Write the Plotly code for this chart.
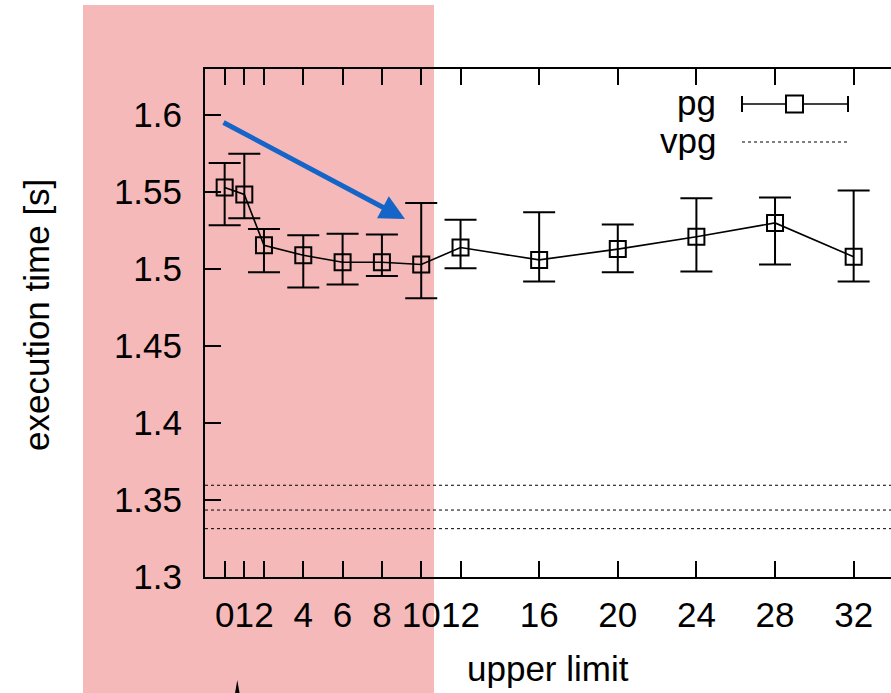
import plotly.graph_objects as go

# ---- data -------------------------------------------------------------
upper_limit = [0, 1, 2, 4, 6, 8, 10, 12, 16, 20, 24, 28, 32]
pg_mean = [1.553, 1.5485, 1.5155, 1.509, 1.5045, 1.5045, 1.503,
           1.514, 1.506, 1.513, 1.521, 1.530, 1.508]
pg_high = [1.569, 1.575, 1.526, 1.522, 1.523, 1.5225, 1.543,
           1.532, 1.537, 1.529, 1.546, 1.5465, 1.551]
pg_low = [1.5285, 1.533, 1.498, 1.488, 1.490, 1.4955, 1.481,
          1.5005, 1.492, 1.498, 1.4985, 1.503, 1.492]

vpg_mean = 1.3435
vpg_high = 1.3596
vpg_low = 1.3314

x_ticks = [0, 1, 2, 4, 6, 8, 10, 12, 16, 20, 24, 28, 32]
x_tick_text = ["0", "1", "2", "4", "6", "8", "10", "12", "16", "20", "24", "28", "32"]
y_ticks = [1.3, 1.35, 1.4, 1.45, 1.5, 1.55, 1.6]
y_tick_text = ["1.3", "1.35", "1.4", "1.45", "1.5", "1.55", "1.6"]

# ---- page geometry ----------------------------------------------------
W, H = 891, 693
ML, MR, MT, MB = 205, 0, 69, 116
PW, PH = W - ML - MR, H - MT - MB
FONT = "Liberation Sans, Arial, Helvetica, sans-serif"
FS = 35


def px(x):
    return (x - ML) / PW


def py(y):
    return (H - MB - y) / PH


err_plus = [h - m for h, m in zip(pg_high, pg_mean)]
err_minus = [m - l for m, l in zip(pg_mean, pg_low)]

fig = go.Figure()
fig.add_trace(go.Scatter(
    x=upper_limit, y=pg_mean, mode="lines+markers", name="pg",
    line=dict(color="black", width=1.6),
    marker=dict(symbol="square-open", size=16, color="black",
                line=dict(width=2, color="black")),
    error_y=dict(type="data", symmetric=False, array=err_plus,
                 arrayminus=err_minus, color="black", thickness=2, width=16),
    showlegend=False,
))

shapes = []
# highlighted region
shapes.append(dict(type="rect", xref="paper", yref="paper", layer="below",
                   x0=px(83), x1=px(434), y0=py(H + 5), y1=py(5),
                   fillcolor="#F6B9B9", line=dict(width=0)))
# vpg mean and its spread
for v in (vpg_high, vpg_mean, vpg_low):
    shapes.append(dict(type="line", xref="paper", yref="y", x0=0, x1=1,
                       y0=v, y1=v, line=dict(color="black", width=1, dash="3px,3px")))

# key
ky1, ky2 = 104, 142
shapes += [
    dict(type="line", xref="paper", yref="paper", x0=px(742), x1=px(848),
         y0=py(ky1), y1=py(ky1), line=dict(color="black", width=1.6)),
    dict(type="line", xref="paper", yref="paper", x0=px(742), x1=px(742),
         y0=py(ky1 - 8), y1=py(ky1 + 8), line=dict(color="black", width=2)),
    dict(type="line", xref="paper", yref="paper", x0=px(848), x1=px(848),
         y0=py(ky1 - 8), y1=py(ky1 + 8), line=dict(color="black", width=2)),
    dict(type="rect", xref="paper", yref="paper", x0=px(786), x1=px(803),
         y0=py(ky1 - 8.5), y1=py(ky1 + 8.5), fillcolor="white",
         line=dict(color="black", width=2)),
    dict(type="line", xref="paper", yref="paper", x0=px(742), x1=px(847),
         y0=py(ky2), y1=py(ky2), line=dict(color="black", width=1, dash="3px,3px")),
]

# narrow black pointer rising from the bottom edge
tip_x, tip_y = 237.3, 680
shapes.append(dict(
    type="path", xref="paper", yref="paper", fillcolor="black", line=dict(width=0),
    path=f"M {px(tip_x)} {py(tip_y)} L {px(tip_x - 3.8)} {py(tip_y + 22)} "
         f"L {px(tip_x + 3.8)} {py(tip_y + 22)} Z",
))

annotations = [
    dict(text="pg", xref="paper", yref="paper", x=px(718), y=py(ky1 - 2),
         xanchor="right", yanchor="middle", showarrow=False,
         font=dict(family=FONT, size=FS, color="black")),
    dict(text="vpg", xref="paper", yref="paper", x=px(718), y=py(ky2 - 2),
         xanchor="right", yanchor="middle", showarrow=False,
         font=dict(family=FONT, size=FS, color="black")),
    dict(text="execution time [s]", xref="paper", yref="paper",
         x=px(36), y=py(315), textangle=-90, xanchor="center", yanchor="middle",
         showarrow=False, font=dict(family=FONT, size=FS, color="black")),
    dict(text="upper limit", xref="paper", yref="paper",
         x=px(548), y=py(668), xanchor="center", yanchor="middle",
         showarrow=False, font=dict(family=FONT, size=FS, color="black")),
    # blue pointer
    dict(text="", xref="paper", yref="paper", x=px(405), y=py(219),
         ax=222 - 405, ay=121.7 - 219, showarrow=True, arrowhead=2,
         arrowsize=1, arrowwidth=5, arrowcolor="#1565C8", standoff=0),
]

axis_common = dict(
    showgrid=False, zeroline=False, ticks="inside", ticklen=16, tickwidth=2,
    tickcolor="black", linecolor="black", linewidth=2, showline=True,
    tickfont=dict(family=FONT, size=FS, color="black"),
)

fig.update_layout(
    width=W, height=H,
    margin=dict(l=ML, r=MR, t=MT, b=MB, pad=0),
    paper_bgcolor="white", plot_bgcolor="rgba(0,0,0,0)",
    xaxis=dict(range=[-1, 33.9], tickvals=x_ticks, ticktext=x_tick_text,
               tickangle=0, mirror="ticks", ticklabelstandoff=6, **axis_common),
    yaxis=dict(range=[1.3, 1.63], tickvals=y_ticks, ticktext=y_tick_text,
               ticklabelstandoff=14, **axis_common),
    yaxis2=dict(range=[1.3, 1.63], tickvals=y_ticks, overlaying="y", side="right",
                anchor="x", showticklabels=False, showgrid=False, zeroline=False,
                ticks="inside", ticklen=16, tickwidth=2, tickcolor="black",
                showline=False),
    shapes=shapes, annotations=annotations, showlegend=False,
)

fig.write_html("out.html")
